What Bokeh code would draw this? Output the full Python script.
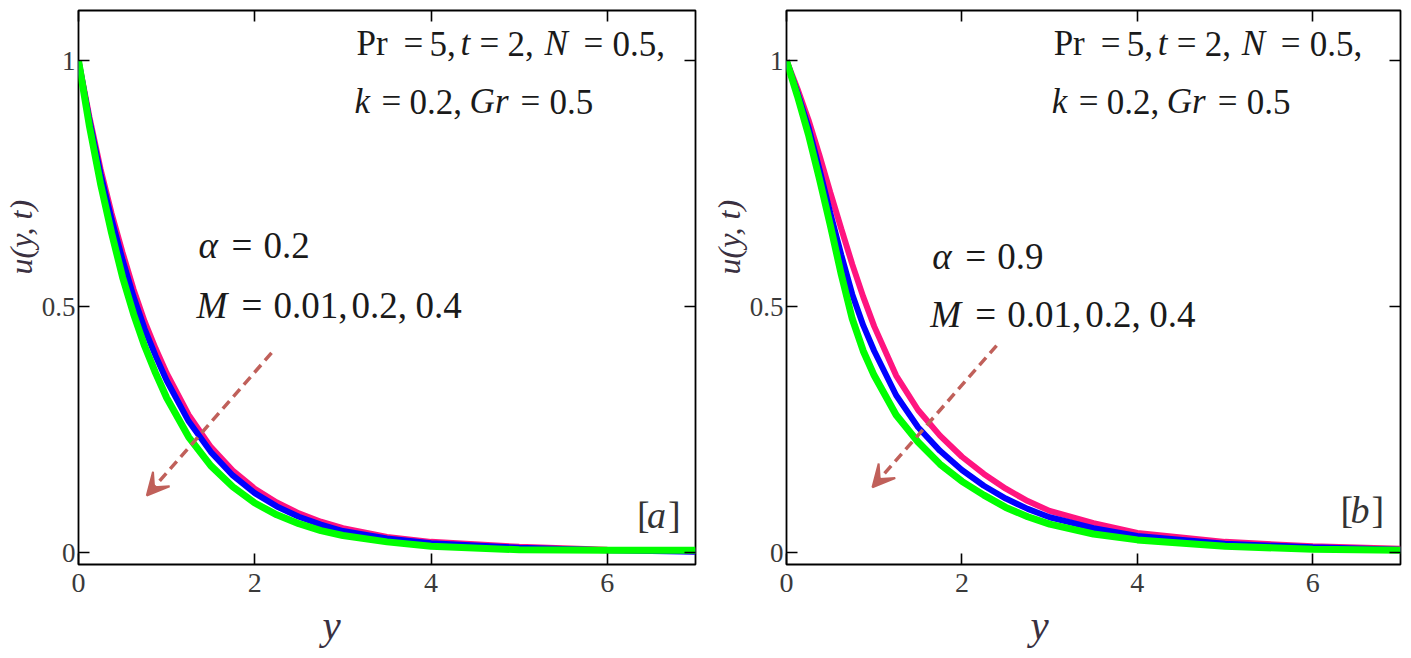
import math
from bokeh.plotting import figure
from bokeh.models import (FixedTicker, LinearAxis, Range1d, Label, Arrow, VeeHead,
                          NumeralTickFormatter, Title)
from bokeh.layouts import row
from bokeh.embed import file_html
from bokeh.resources import INLINE

# ---------------- data ----------------
y_grid = [0, 0.125, 0.25, 0.375, 0.5, 0.625, 0.75, 0.875, 1.0, 1.25, 1.5, 1.75,
          2.0, 2.25, 2.5, 2.75, 3.0, 3.5, 4.0, 5.0, 6.0, 7.0]

# panel [a], alpha = 0.2
u_a_M001 = [1.0, 0.885, 0.78, 0.69, 0.61, 0.535, 0.47, 0.415, 0.365, 0.28, 0.215,
            0.167, 0.13, 0.102, 0.08, 0.063, 0.05, 0.032, 0.022, 0.012, 0.006, 0.003]
u_a_M02 = [1.0, 0.878, 0.77, 0.678, 0.595, 0.52, 0.455, 0.4, 0.35, 0.267, 0.205,
           0.157, 0.121, 0.094, 0.073, 0.057, 0.044, 0.029, 0.019, 0.01, 0.005, 0.002]
u_a_M04 = [1.0, 0.866, 0.75, 0.65, 0.56, 0.485, 0.42, 0.365, 0.315, 0.235, 0.177,
           0.134, 0.101, 0.077, 0.059, 0.045, 0.035, 0.022, 0.013, 0.006, 0.005, 0.005]

# panel [b], alpha = 0.9
u_b_M001 = [1.0, 0.943, 0.88, 0.808, 0.732, 0.658, 0.586, 0.52, 0.46, 0.36, 0.29,
            0.238, 0.195, 0.16, 0.13, 0.105, 0.085, 0.06, 0.04, 0.022, 0.013, 0.008]
u_b_M02 = [1.0, 0.935, 0.865, 0.78, 0.69, 0.605, 0.525, 0.462, 0.41, 0.32, 0.255,
           0.207, 0.168, 0.136, 0.11, 0.089, 0.072, 0.05, 0.034, 0.018, 0.011, 0.006]
u_b_M04 = [1.0, 0.928, 0.85, 0.76, 0.665, 0.565, 0.475, 0.41, 0.36, 0.28, 0.225,
           0.18, 0.145, 0.117, 0.092, 0.073, 0.058, 0.038, 0.026, 0.013, 0.007, 0.005]

x_ticks = [0, 2, 4, 6]
x_tick_labels = ["0", "2", "4", "6"]
y_ticks = [0, 0.5, 1]
y_tick_labels = ["0", "0.5", "1"]

alpha_values = ["0.2", "0.9"]
M_values = ["0.01,", "0.2,", "0.4"]
panel_tags = ["a", "b"]
x_label = "y"
y_label = "u(y, t)"

# ---------------- style ----------------
SERIF = "Liberation Serif"
C_PINK = "#ff1480"
C_BLUE = "#0000ff"
C_GREEN = "#00ff00"
C_ARROW = "#c0605a"
C_TEXT = "#1a1a1a"
C_TICK = "#3a3a3a"
C_AXLAB = "#3a3040"

X_RANGE = (0, 7)
Y_RANGE = (-0.024, 1.102)
H = 656


def tokens(p, x0, y0, toks, size, color=C_TEXT):
    for txt, italic, dx in toks:
        p.add_layout(Label(x=x0, y=y0, x_offset=dx, text=txt, text_font=SERIF,
                           text_font_size=f"{size}px",
                           text_font_style="italic" if italic else "normal",
                           text_color=color, text_align="left",
                           text_baseline="alphabetic"))


def make_panel(curves, alpha_txt, tag, width, b_left, b_right, top_x, alpha_xy,
               tag_xy, arrow):
    p = figure(width=width, height=H, x_range=Range1d(*X_RANGE),
               y_range=Range1d(*Y_RANGE), output_backend="svg",
               toolbar_location=None, min_border_left=b_left,
               min_border_right=b_right, min_border_top=10, min_border_bottom=92,
               background_fill_color="white", border_fill_color="white",
               outline_line_color="black", outline_line_width=1.8)
    p.grid.visible = False

    for ys, color, lw in curves:
        p.line(y_grid, ys, line_color=color, line_width=lw)

    xa = p.xaxis[0]
    xa.ticker = FixedTicker(ticks=x_ticks)
    xa.major_label_overrides = dict(zip(x_ticks, x_tick_labels))
    ya = p.yaxis[0]
    ya.ticker = FixedTicker(ticks=y_ticks)
    ya.formatter = NumeralTickFormatter(format="0.[0]")
    ya.major_label_overrides = dict(zip(y_ticks, y_tick_labels))
    for ax, standoff, fs in ((xa, 9, "28px"), (ya, 3, "27px")):
        ax.axis_line_color = None
        ax.major_tick_in = 11
        ax.major_tick_out = 0
        ax.major_tick_line_color = "black"
        ax.major_tick_line_width = 1.6
        ax.minor_tick_line_color = None
        ax.major_label_text_font = SERIF
        ax.major_label_text_font_size = fs
        ax.major_label_text_color = C_TICK
        ax.major_label_standoff = standoff

    for side, tks in (("above", x_ticks), ("right", y_ticks)):
        ax = LinearAxis(ticker=FixedTicker(ticks=tks), axis_line_color=None,
                        major_tick_in=11, major_tick_out=0,
                        major_tick_line_color="black", major_tick_line_width=1.6,
                        minor_tick_line_color=None,
                        major_label_text_font_size="0px",
                        major_label_text_color=None, major_label_standoff=0)
        p.add_layout(ax, side)

    # axis labels as titles (so they can sit outside the frame)
    p.add_layout(Title(text=x_label, align="left", offset=244, standoff=14,
                       vertical_align="top",
                       text_font=SERIF, text_font_size="41px",
                       text_font_style="italic", text_color=C_AXLAB), "below")
    p.add_layout(Title(text=y_label, align="left", offset=290, standoff=0,
                       text_font=SERIF, text_font_size="32px",
                       text_font_style="italic", text_color=C_AXLAB), "left")

    # parameter text (top right)
    tokens(p, top_x, 1.034, [("Pr", False, 4), ("=", False, 51), ("5,", False, 77),
                             ("t", True, 108), ("=", False, 127), ("2,", False, 155),
                             ("N", True, 192), ("=", False, 231), ("0.5,", False, 260)], 35)
    tokens(p, top_x, 0.917, [("k", True, 2), ("=", False, 29), ("0.2,", False, 57),
                             ("Gr", True, 117), ("=", False, 168), ("0.5", False, 197)], 35)

    # alpha / M text
    ax0, ay0, my0 = alpha_xy
    tokens(p, ax0, ay0, [("α", True, 2), ("=", False, 35), (alpha_txt, False, 67)], 37)
    tokens(p, ax0, my0, [("M", True, 0), ("=", False, 45), (M_values[0], False, 77),
                         (M_values[1], False, 155), (M_values[2], False, 219)], 37)

    # panel tag
    tokens(p, tag_xy[0], tag_xy[1], [("[", False, 0), (tag, True, 10), ("]", False, 31)],
           38, "#333333")

    # arrow
    xs, ys0, xe, ye = arrow
    p.add_layout(Arrow(end=VeeHead(size=22, fill_color=C_ARROW, line_color=C_ARROW,
                                   line_width=2),
                       x_start=xs, y_start=ys0, x_end=xe, y_end=ye,
                       line_color=C_ARROW, line_width=3.5, line_dash="10 6"))
    return p


pa = make_panel([(u_a_M001, C_PINK, 6), (u_a_M02, C_BLUE, 6), (u_a_M04, C_GREEN, 7)],
                alpha_values[0], panel_tags[0], 708, 77, 13, 3.11,
                (1.34, 0.624, 0.502), (6.337, 0.076),
                (2.19, 0.406, 0.775, 0.116))
pb = make_panel([(u_b_M001, C_PINK, 6), (u_b_M02, C_BLUE, 6), (u_b_M04, C_GREEN, 7)],
                alpha_values[1], panel_tags[1], 700, 74, 8, 3.0,
                (1.64, 0.601, 0.485), (6.316, 0.086),
                (2.395, 0.421, 0.98, 0.133))

layout = row(pa, pb)
open("out.html", "w").write(file_html(layout, INLINE))
